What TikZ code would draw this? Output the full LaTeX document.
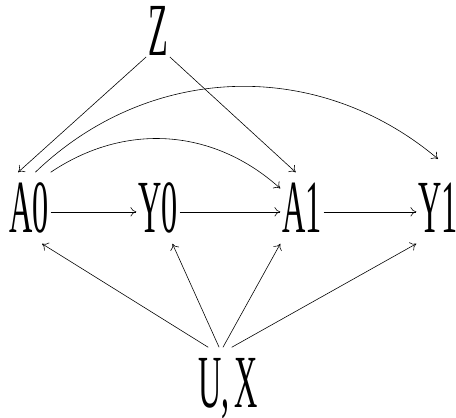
\documentclass[tikz,border=0pt]{standalone}
\usepackage{graphicx}
\usepackage{fontspec}
\setmainfont{Liberation Serif}
\usepackage{tikz}
\usetikzlibrary{arrows.meta}

\newcommand{\slimtxt}[1]{\scalebox{0.43}[1]{#1}}

\begin{document}
\begin{tikzpicture}[
  x=0.03cm, y=-0.03cm,
  var/.style={
    inner xsep=1.5pt, inner ysep=1pt, text depth=0pt,
    minimum height=2.13cm,
    font=\fontsize{64}{66}\selectfont
  },
  arr/.style={-{To[length=5pt,width=8pt]}, line width=0.5pt},
]
\useasboundingbox (0,0) rectangle (456,417);

%% -- variables ---------------------------------------------------------------
\node[var, minimum height=0pt] (Z)  at (158,  31) {\slimtxt{Z}};
\node[var] (A0) at (29,  208) {\slimtxt{A0}};
\node[var] (Y0) at (158, 208) {\slimtxt{Y0}};
\node[var] (A1) at (302, 208) {\slimtxt{A1}};
\node[var] (Y1) at (438, 208) {\slimtxt{Y1}};
\node[var] (UX) at (228, 383) {\slimtxt{U,\,X}};

%% -- confounder Z ------------------------------------------------------------
\draw[arr] (Z.south west) -- (A0.107);
\draw[arr] (Z.south east) -- (A1.100);

%% -- time order --------------------------------------------------------------
\draw[arr] (A0.-10) -- (Y0.190);
\draw[arr] (Y0.-10) -- (A1.190);
\draw[arr] (A1.-10) -- (Y1.190);
\draw[arr] (A0.north east) to[bend left=38] (A1.138);
\draw[arr] (A0.80) to[bend left=42] ([yshift=0.4cm]Y1.north);

%% -- U, X --------------------------------------------------------------------
\draw[arr] (UX.119) -- (A0.290);
\draw[arr] (UX.104) -- (Y0.292);
\draw[arr] (UX.98)  -- (A1.south west);
\draw[arr] (UX.84)  -- (Y1.south west);

\end{tikzpicture}
\end{document}
